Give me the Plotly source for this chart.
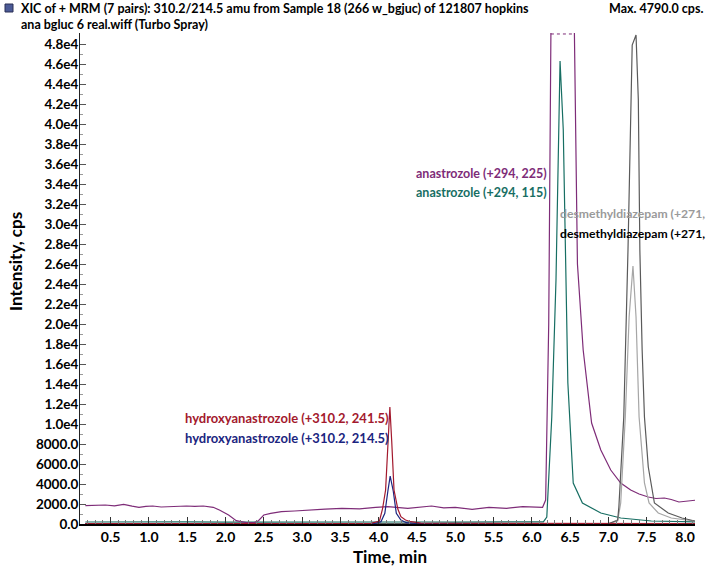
import numpy as np
import plotly.graph_objects as go

# ---------------- data (time in min, intensity in cps) ----------------
time_ana225 = [0.17, 0.26, 0.43, 0.55, 0.67, 0.78, 0.87, 0.96, 1.05, 1.16, 1.26, 1.37, 1.49, 1.60, 1.71, 1.84,
               1.92, 2.04, 2.14, 2.27, 2.37, 2.43, 2.50, 2.59, 2.73, 2.90, 3.07, 3.30, 3.52, 3.75, 3.96,
               4.12, 4.38, 4.55, 4.69, 4.85, 5.00, 5.22, 5.44, 5.67, 5.88, 6.14, 6.18, 6.22, 6.25, 6.32,
               6.40, 6.48, 6.553, 6.595, 6.67, 6.78, 6.90, 7.03, 7.16, 7.29, 7.40, 7.52, 7.62, 7.73, 7.82,
               7.92, 8.05, 8.16]
int_ana225 = [1830, 1830, 1900, 1820, 1970, 1780, 1670, 1760, 1800, 1700, 1730, 1820, 1800, 1760, 1800, 1670,
              1400, 900, 330, 130, 130, 330, 900, 1070, 1230, 1300, 1400, 1480, 1570, 1520, 1670,
              1730, 1570, 1700, 1800, 1620, 1670, 1470, 1670, 1570, 1730, 1670, 2400, 20000, 50500, 75000,
              90000, 80000, 50500, 26000, 17400, 10100, 7400, 5400, 4100, 3400, 3000, 2700, 2550, 2600, 2450,
              2200, 2350, 2400]

time_ana115 = [0.17, 0.5, 1.0, 1.5, 2.0, 2.5, 3.0, 3.5, 4.0, 4.5, 5.0, 5.5, 6.0, 6.15, 6.195, 6.26, 6.315,
               6.368, 6.41, 6.447, 6.47, 6.54, 6.66, 6.90, 7.16, 7.56, 8.16]
int_ana115 = [200, 220, 180, 210, 190, 200, 220, 190, 210, 200, 180, 210, 200, 220, 700, 10700, 24400,
              46300, 39400, 25400, 14100, 4100, 2100, 1100, 600, 300, 200]

time_oh2415 = [0.17, 1.0, 2.0, 3.0, 3.90, 4.01, 4.05, 4.09, 4.12, 4.146, 4.17, 4.20, 4.25, 4.29, 4.35,
               4.42, 4.55, 5.5, 6.5, 7.5, 8.16]
int_oh2415 = [40, 50, 40, 50, 60, 300, 1500, 3400, 8000, 11700, 8300, 3400, 1500, 730, 400,
              230, 80, 50, 40, 50, 40]

time_oh2145 = [0.17, 1.0, 2.0, 3.0, 3.95, 4.03, 4.08, 4.12, 4.15, 4.19, 4.23, 4.29, 4.36, 4.5, 5.5, 6.5,
               7.5, 8.16]
int_oh2145 = [30, 40, 30, 40, 50, 230, 1070, 3300, 4790, 3300, 1070, 400, 130, 50, 40, 30, 40, 30]

time_dmd_a = [0.17, 2.0, 4.0, 6.0, 7.0, 7.12, 7.16, 7.22, 7.27, 7.32, 7.36, 7.40, 7.47, 7.53, 7.65, 7.82,
              8.09, 8.16]
int_dmd_a = [30, 30, 40, 30, 40, 300, 2100, 10700, 20700, 25800, 20700, 10700, 4100, 2100, 1100, 600,
             300, 250]

time_dmd_b = [0.17, 2.0, 4.0, 6.0, 7.0, 7.12, 7.136, 7.20, 7.255, 7.31, 7.335, 7.36, 7.39, 7.41, 7.44,
              7.47, 7.52, 7.60, 7.78, 7.96, 8.13, 8.16]
int_dmd_b = [30, 40, 30, 40, 30, 400, 1700, 10700, 27400, 47900, 48400, 48900, 42400, 27400, 17400,
             10700, 5700, 2100, 1100, 600, 300, 280]

series_names = ["anastrozole (+294, 115)", "anastrozole (+294, 225)",
                "desmethyldiazepam (+271, a)", "desmethyldiazepam (+271, b)",
                "hydroxyanastrozole (+310.2, 214.5)", "hydroxyanastrozole (+310.2, 241.5)"]

xtick_values = [0.5, 1.0, 1.5, 2.0, 2.5, 3.0, 3.5, 4.0, 4.5, 5.0, 5.5, 6.0, 6.5, 7.0, 7.5, 8.0]
xtick_labels = ["0.5", "1.0", "1.5", "2.0", "2.5", "3.0", "3.5", "4.0", "4.5", "5.0", "5.5", "6.0",
                "6.5", "7.0", "7.5", "8.0"]
ytick_values = [0, 2000, 4000, 6000, 8000, 10000, 12000, 14000, 16000, 18000, 20000, 22000, 24000,
                26000, 28000, 30000, 32000, 34000, 36000, 38000, 40000, 42000, 44000, 46000, 48000]
ytick_labels = ["0.0", "2000.0", "4000.0", "6000.0", "8000.0", "1.0e4", "1.2e4", "1.4e4", "1.6e4",
                "1.8e4", "2.0e4", "2.2e4", "2.4e4", "2.6e4", "2.8e4", "3.0e4", "3.2e4", "3.4e4",
                "3.6e4", "3.8e4", "4.0e4", "4.2e4", "4.4e4", "4.6e4", "4.8e4"]

# ---------------- styling ----------------
X_RANGE = [0.10, 8.13]
Y_MAX = 49100
FONT = "Lato, 'Open Sans', sans-serif"
C_PURPLE = "#7e2c78"
C_TEAL = "#176e63"
C_RED = "#a3192d"
C_NAVY = "#1b2580"
C_LGREY = "#a6a6a6"
C_DARK = "#5a5a5a"

W, H = 707, 572
ML, MR, MT, MB = 80, 12, 33, 48
PW, PH = W - ML - MR, H - MT - MB


def paper(px, py):
    return (px - ML) / PW, (H - MB - py) / PH


fig = go.Figure()


def add_line(t, v, color, name, width=1.2):
    fig.add_trace(go.Scatter(x=t, y=v, mode="lines", name=name,
                             line=dict(color=color, width=width), hoverinfo="x+y+name"))


add_line(time_ana115, int_ana115, C_TEAL, series_names[0])
add_line(time_ana225, int_ana225, C_PURPLE, series_names[1])
add_line(time_dmd_a, int_dmd_a, C_LGREY, series_names[2])
add_line(time_dmd_b, int_dmd_b, C_DARK, series_names[3])
add_line(time_oh2145, int_oh2145, C_NAVY, series_names[4])
add_line(time_oh2415, int_oh2415, C_RED, series_names[5])

# dotted marker where the anastrozole (225) trace is clipped at the top of the axis
t_arr = np.array(time_ana225, dtype=float)
v_arr = np.array(int_ana225, dtype=float)
above = np.where(v_arr > Y_MAX)[0]
if len(above):
    i0, i1 = above[0], above[-1]
    t_in = t_arr[i0 - 1] + (Y_MAX - v_arr[i0 - 1]) / (v_arr[i0] - v_arr[i0 - 1]) * (t_arr[i0] - t_arr[i0 - 1])
    t_out = t_arr[i1] + (Y_MAX - v_arr[i1]) / (v_arr[i1 + 1] - v_arr[i1]) * (t_arr[i1 + 1] - t_arr[i1])
    fig.add_trace(go.Scatter(x=[t_in, t_out], y=[Y_MAX * 0.998, Y_MAX * 0.998], mode="lines",
                             line=dict(color=C_PURPLE, width=1, dash="dot"), hoverinfo="skip",
                             showlegend=False))

fig.update_layout(
    width=W, height=H,
    margin=dict(l=ML, r=MR, t=MT, b=MB),
    paper_bgcolor="white", plot_bgcolor="white",
    showlegend=False,
    font=dict(family=FONT, color="black"),
)

fig.update_xaxes(
    range=X_RANGE, showgrid=False, zeroline=False,
    showline=True, linecolor="black", linewidth=2,
    tickmode="array", tickvals=xtick_values, ticktext=xtick_labels,
    ticks="inside", ticklen=7, tickcolor="#333333", tickwidth=1,
    tickfont=dict(family=FONT, size=14, color="black", weight="bold"),
    ticklabelstandoff=-1,
    minor=dict(tickmode="linear", tick0=0, dtick=0.1, ticks="inside", ticklen=4,
               tickcolor="#777777", tickwidth=1, showgrid=False),
)
fig.update_yaxes(
    range=[0, Y_MAX], showgrid=False, zeroline=False,
    showline=True, linecolor="#222222", linewidth=1,
    tickmode="array", tickvals=ytick_values, ticktext=ytick_labels,
    ticks="inside", ticklen=6, tickcolor="#555555", tickwidth=1,
    tickfont=dict(family=FONT, size=13.5, color="black", weight="bold"),
    ticklabelstandoff=-2,
    minor=dict(tickmode="linear", tick0=0, dtick=1000, ticks="inside", ticklen=3,
               tickcolor="#999999", tickwidth=1, showgrid=False),
)

ann = []


def add_text(text, px, py, color="black", size=12.5, xanchor="left", yanchor="middle", angle=0):
    xp, yp = paper(px, py)
    ann.append(dict(text=text, x=xp, y=yp, xref="paper", yref="paper", showarrow=False,
                    xanchor=xanchor, yanchor=yanchor, textangle=angle,
                    font=dict(family=FONT, size=size, color=color, weight="bold")))


# header
add_text("XIC of + MRM (7 pairs): 310.2/214.5 amu from Sample 18 (266 w_bgjuc) of 121807 hopkins",
         19, 9, size=12.5)
add_text("ana bgluc 6 real.wiff (Turbo Spray)", 19, 25, size=12.5)
add_text("Max. 4790.0 cps.", 705, 9, size=12.5, xanchor="right")

# peak labels
add_text("hydroxyanastrozole (+310.2, 241.5)", 183, 418, color=C_RED, size=13)
add_text("hydroxyanastrozole (+310.2, 214.5)", 183, 438, color=C_NAVY, size=13)
add_text("anastrozole (+294, 225)", 549, 173, color=C_PURPLE, size=12.5, xanchor="right")
add_text("anastrozole (+294, 115)", 549, 193, color=C_TEAL, size=12.5, xanchor="right")
add_text("desmethyldiazepam (+271,", 558, 213, color="#9a9a9a", size=12.2)
add_text("desmethyldiazepam (+271,", 558, 233, color="black", size=12.2)

# axis titles
add_text("Intensity, cps", 15, 262, size=17, xanchor="center", angle=-90)
add_text("Time, min", 390, 556, size=17, xanchor="center")

fig.update_layout(annotations=ann)

# small legend swatch in the header
x0, y0 = paper(5, 4)
x1, y1 = paper(13, 12)
fig.add_shape(type="rect", xref="paper", yref="paper", x0=x0, y0=y1, x1=x1, y1=y0,
              fillcolor="#4b5a96", line=dict(color="#2a2f55", width=1))

fig.write_html("out.html", config={"displayModeBar": False},
               post_script="document.body.style.margin='0px';document.body.style.padding='0px';")
